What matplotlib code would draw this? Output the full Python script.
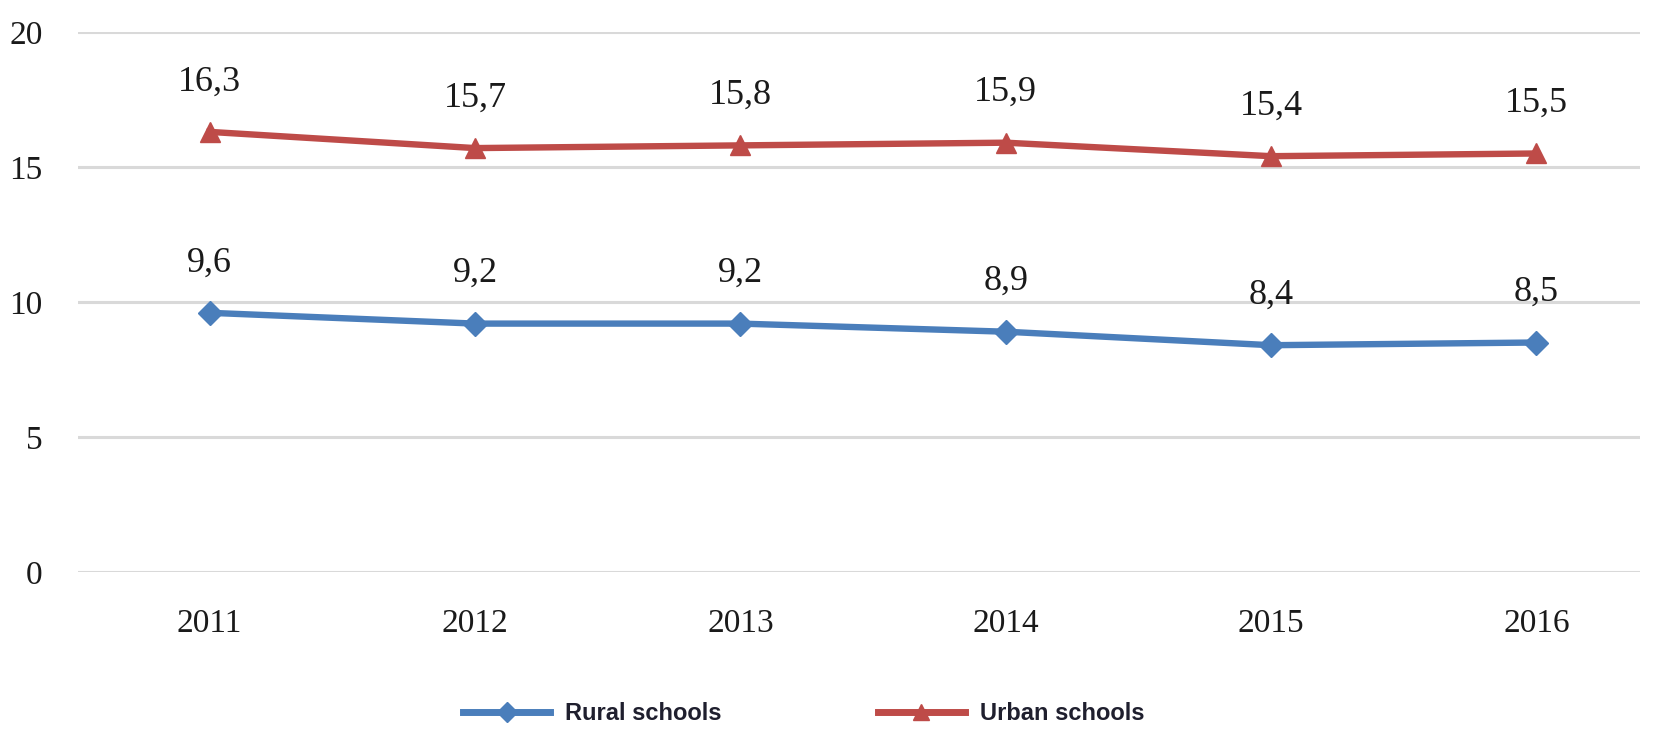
import matplotlib
matplotlib.use("Agg")
import matplotlib.pyplot as plt
from matplotlib.lines import Line2D

years = ["2011", "2012", "2013", "2014", "2015", "2016"]
rural = [9.6, 9.2, 9.2, 8.9, 8.4, 8.5]
urban = [16.3, 15.7, 15.8, 15.9, 15.4, 15.5]
yticks = [0, 5, 10, 15, 20]

blue = "#4a7ebb"
red = "#be4b48"

fig = plt.figure(figsize=(16.7, 7.3), dpi=100)
ax = fig.add_axes([0.047, 0.2164, 0.935, 0.7398])

x = list(range(len(years)))
ax.plot(x, rural, color=blue, lw=4.6, marker="D", ms=12, mec=blue, mfc=blue, zorder=3)
ax.plot(x, urban, color=red, lw=4.6, marker="^", ms=15, mec=red, mfc=red, zorder=3)

serif = ["Liberation Serif", "DejaVu Serif"]
for xi, v in zip(x, rural):
    ax.annotate(f"{v:.1f}".replace(".", ","), (xi, v), xytext=(0, 36), textcoords="offset points",
                ha="center", va="center", fontsize=26, family=serif, color="#1a1a1a")
for xi, v in zip(x, urban):
    ax.annotate(f"{v:.1f}".replace(".", ","), (xi, v), xytext=(0, 36), textcoords="offset points",
                ha="center", va="center", fontsize=26, family=serif, color="#1a1a1a")

ax.set_xlim(-0.494, 5.39)
ax.set_ylim(0, 20)
ax.set_yticks(yticks)
ax.set_xticks(x)
ax.set_xticklabels(years)
ax.grid(axis="y", color="#d9d9d9", lw=2.2)
ax.set_axisbelow(True)
for s in ax.spines.values():
    s.set_visible(False)
ax.tick_params(axis="both", length=0, labelsize=24, colors="#1a1a1a")
ax.tick_params(axis="y", pad=26)
ax.tick_params(axis="x", pad=26)
for lab in ax.get_xticklabels() + ax.get_yticklabels():
    lab.set_family(serif)

handles = [
    Line2D([], [], color=blue, lw=5, marker="D", ms=10),
    Line2D([], [], color=red, lw=5, marker="^", ms=12),
]
fig.legend(handles, ["Rural schools", "Urban schools"], loc="center left",
           bbox_to_anchor=(463 / 1670, 0.022), ncol=2, frameon=False, handlelength=3.7,
           columnspacing=6.6, handletextpad=0.64, borderpad=0, borderaxespad=0,
           labelcolor="#1f1f2e",
           prop={"family": ["Liberation Sans Narrow", "Liberation Sans"], "size": 17, "weight": "bold"})

fig.savefig("out.png", dpi=100, facecolor="white")
